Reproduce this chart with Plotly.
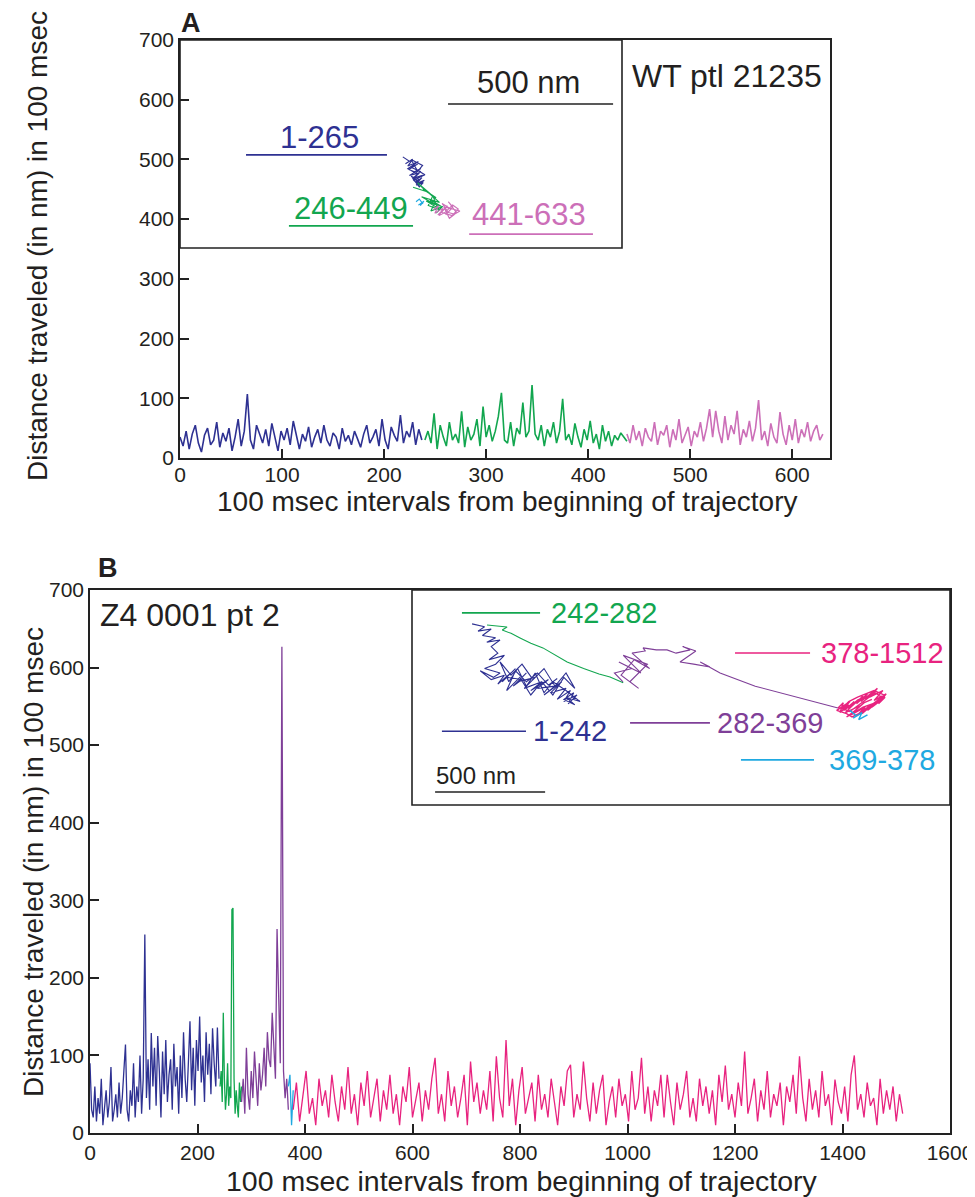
import plotly.graph_objects as go

W, H = 975, 1197
OFF = 8  # page body margin offset
def px(v): return (v - OFF) / W
def py(v): return 1 - (v - OFF) / H

# ---------------- Panel A: distance per interval ----------------
a_blue_start, a_blue_step = 0, 3
a_blue = [35,20,45,15,40,55,25,10,38,50,22,30,60,18,42,28,50,12,35,65,20,45,107,30,15,55,40,25,48,20,58,35,12,45,30,50,22,62,38,15,
          40,28,52,18,35,48,25,55,30,20,42,35,15,50,28,38,22,45,32,18,40,55,25,35,48,20,65,30,15,52,38,28,72,25,45,35,60,22,48,30]
a_green_start, a_green_step = 240, 3
a_green = [30,45,25,75,15,55,35,20,60,30, 40,25,78,18,52,30,40,65,20,86, 35,55,28,45,70,109,30,25,60,20,
           50,40,93,35,45,122,40,30,55,20, 48,35,60,25,45,99,30,40,22,58, 35,18,48,30,62,25,40,15,55,28, 45,20,38,30,42,35,28]
a_pink_start, a_pink_step = 438, 3
a_pink = [40,25,55,30,45,20,50,35,28,60, 22,45,38,55,18,48,30,65,25,40, 52,20,45,35,60,28,50,82,35,79,
          45,25,70,30,55,40,79,22,48,35, 62,28,50,97,30,45,20,58,35,25, 77,40,22,55,30,65,25,48,35,60, 28,45,55,30,40]

# Panel A inset trajectories (nm)
ta_blue_x = [675,695,683,705,690,715,700,720,693,710,730,703,717,695,725,710,735,705,720,700,727,713,733,717,740,723,730,715,737,725,
             705,728,698,722,690,715,735,700,718,742,708,726]
ta_blue_y = [276,263,255,269,248,259,245,254,238,231,241,224,234,220,227,213,220,210,203,217,206,199,213,196,205,192,200,191,198,185,
             210,232,245,262,240,226,250,268,236,222,205,190]
ta_green_x = [706,746,720,766,736,776,752,786,732,772,756,792,746,780,766,752,786,772,760,796,776]
ta_green_y = [184,171,197,158,178,152,168,138,155,132,148,126,142,122,158,129,116,138,112,126,106]
ta_cyan_x = [715,725,735,722,739,728]
ta_cyan_y = [140,148,135,130,142,128]
ta_pink_x = [767,783,772,796,785,810,794,821,805,826,813,837,821,843,826,805,832,816,799,848,824,792,810,781]
ta_pink_y = [115,128,105,120,98,112,135,118,100,125,140,108,95,118,130,110,102,90,125,112,98,108,128,100]

# ---------------- Panel B ----------------
b_blue_start, b_blue_step = 0, 3
b_blue = [90,30,20,60,15,45,25,70,10,35, 55,20,40,85,15,30,50,20,65,25, 45,80,114,30,15,55,35,90,20,60,
          40,100,25,70,256,45,95,30,129,60, 110,35,125,80,20,105,50,120,40,75, 95,30,115,60,85,25,100,45,130,70,
          40,90,144,55,110,35,120,80,150,65, 100,40,130,75,115,50,135,90,60,136, 70]
b_green_start, b_green_step = 242, 2
b_green = [60,80,40,155,70,30,50,90,35,60, 45,288,290,70,25,55,35,20,65,40,60]
b_purple_start, b_purple_step = 282, 3
b_purple = [40,70,25,110,50,30,80,45,105,60, 35,90,55,75,110,60,130,95,85,155, 120,70,263,176,90,627,80,45,70,30]
b_cyan_start, b_cyan_step = 369, 3
b_cyan = [60,75,10,55]
b_pink_start, b_pink_step = 378, 6
b_pink = [30,65,15,50,80,25,45,10,70,35, 55,20,75,40,15,60,30,85,25,50, 10,65,35,80,20,45,70,15,55,30,
          75,25,50,10,60,40,85,20,45,65, 15,55,30,70,97,25,50,15,80,35, 60,20,45,75,10,92,40,65,25,55,
          30,80,15,99,45,20,120,35,70,10, 55,85,25,45,65,15,75,30,50,20, 70,40,10,60,35,80,88,20,50,30,
          92,45,15,65,25,55,75,10,40,60, 20,70,35,50,15,80,30,45,97,25, 60,15,55,35,75,20,75,40,10,65,
          30,50,80,20,45,15,70,35,60,25, 55,10,75,40,87,30,50,20,65,35, 105,25,45,70,15,55,30,80,20,50,
          35,65,10,60,40,75,25,99,45,15, 70,30,55,20,80,35,50,10,69,40, 25,60,15,75,100,30,50,20,65,35,
          45,10,70,25,55,30,60,15,50,25]

# Panel B inset trajectories (nm)
tb_blue_x = [273,330,300,360,320,380,340,400,360,390,350,420,380,330,400,370,310,360,420,390,450,410,470,430,500,460,520,480,560,510,
             590,540,620,570,650,600,680,630,700,660,720,690,750,710,735,690,740,700,764,
             700,640,600,560,520,480,440,400,450,500,550,600,650,700,740,690,640,590,540,490,430,470,520,570,620,660]
tb_blue_y = [823,810,790,800,770,760,740,750,720,690,660,680,640,620,600,580,610,570,590,550,600,560,620,580,570,540,600,560,580,530,
             560,520,570,530,540,500,560,510,530,480,520,470,500,460,510,480,455,490,470,
             520,560,510,600,540,620,560,650,590,640,570,620,540,600,530,580,500,560,500,580,520,610,560,600,545,575]
tb_green_x = [341,390,432,410,450,491,540,595,650,705,780,850,900,930,959,940,960]
tb_green_y = [818,812,809,795,780,759,735,714,680,650,620,595,582,570,559,565,555]
tb_purple_x = [959,920,1000,940,1040,960,1070,990,1030,950,1010,1080,1000,1060,1050,1110,1159,1200,1264,1230,1290,1218,1280,1354,1310,1400,1560,1750,1936]
tb_purple_y = [559,600,620,650,600,680,640,560,530,590,660,620,690,700,714,705,705,690,705,720,700,650,640,627,650,600,540,490,441]
tb_pink_x = [1936,1960,1945,1985,1965,2010,1980,2030,2000,2050, 2020,2070,2040,2095,2060,2115,2080,2140,2100,2155,
             2120,2150,2090,2130,2070,2110,2045,2085,2020,2060, 1995,2035,1970,2010,1950,1990,1930,1975,2000,2040,
             2080,2120,2145,2100,2060,2025,1985,1955,1990,2030, 2070,2105,2135,2095,2050,2010,1975,2015,2055,2090]
tb_pink_y = [441,465,420,455,430,470,440,480,450,495, 460,505,470,515,480,530,490,520,475,505,
             460,490,445,480,430,470,415,455,405,445, 410,450,420,460,425,470,430,415,400,420,
             440,470,500,520,505,490,470,440,425,455, 485,510,490,460,445,420,400,430,465,480]
tb_cyan_x = [1990,2020,2005,2045,2030,2070]
tb_cyan_y = [430,405,395,420,388,410]

C_NAVY = "#2e3192"
C_GREEN = "#12a64f"
C_ORCHID = "#cc6fb8"
C_PURPLE = "#7f3f98"
C_MAGENTA = "#e8237f"
C_CYAN = "#1fa9e1"
C_TEXT = "#231f20"

def xs(start, step, vals):
    return [start + step * i for i in range(len(vals))]

fig = go.Figure()

def series(start, step, vals, color, xa, ya, w=1.6):
    fig.add_trace(go.Scatter(x=xs(start, step, vals), y=vals, mode="lines",
                             line=dict(color=color, width=w), xaxis=xa, yaxis=ya,
                             showlegend=False, hoverinfo="skip"))

def traj(x, y, color, xa, ya, w=1.1):
    fig.add_trace(go.Scatter(x=x, y=y, mode="lines", line=dict(color=color, width=w),
                             xaxis=xa, yaxis=ya, showlegend=False, hoverinfo="skip"))

# Panel A main
series(a_blue_start, a_blue_step, a_blue, C_NAVY, "x", "y")
series(a_green_start, a_green_step, a_green, C_GREEN, "x", "y")
series(a_pink_start, a_pink_step, a_pink, C_ORCHID, "x", "y")
# Panel A inset
traj(ta_blue_x, ta_blue_y, C_NAVY, "x2", "y2")
traj(ta_green_x, ta_green_y, C_GREEN, "x2", "y2")
traj(ta_cyan_x, ta_cyan_y, C_CYAN, "x2", "y2")
traj(ta_pink_x, ta_pink_y, C_ORCHID, "x2", "y2")
# Panel B main
series(b_blue_start, b_blue_step, b_blue, C_NAVY, "x3", "y3", 1.3)
series(b_green_start, b_green_step, b_green, C_GREEN, "x3", "y3", 1.3)
series(b_purple_start, b_purple_step, b_purple, C_PURPLE, "x3", "y3", 1.3)
series(b_cyan_start, b_cyan_step, b_cyan, C_CYAN, "x3", "y3", 1.3)
series(b_pink_start, b_pink_step, b_pink, C_MAGENTA, "x3", "y3", 1.3)
# Panel B inset
traj(tb_blue_x, tb_blue_y, C_NAVY, "x4", "y4")
traj(tb_green_x, tb_green_y, C_GREEN, "x4", "y4")
traj(tb_purple_x, tb_purple_y, C_PURPLE, "x4", "y4")
traj(tb_pink_x, tb_pink_y, C_MAGENTA, "x4", "y4", 1.4)
traj(tb_cyan_x, tb_cyan_y, C_CYAN, "x4", "y4", 1.4)

FONT = "Liberation Sans, Arial, sans-serif"
ax_common = dict(showgrid=False, zeroline=False, showline=True, linecolor="#222", linewidth=1.6,
                 mirror=True, ticks="inside", ticklen=9, tickcolor="#222", tickwidth=1.6,
                 automargin=False, tickfont=dict(family=FONT, size=21, color=C_TEXT))
hidden = dict(visible=False, showgrid=False, zeroline=False, fixedrange=True, automargin=False)

fig.update_layout(
    width=W, height=H, margin=dict(l=0, r=0, t=0, b=0, autoexpand=False),
    paper_bgcolor="white", plot_bgcolor="rgba(0,0,0,0)",
    font=dict(family=FONT, color=C_TEXT),
    xaxis=dict(domain=[px(180), px(830)], range=[0, 637], tickvals=[0,100,200,300,400,500,600],
               anchor="y", ticklabelstandoff=-3, **ax_common),
    yaxis=dict(domain=[py(458), py(40)], range=[0, 700], tickvals=[0,100,200,300,400,500,600,700],
               anchor="x", **ax_common),
    xaxis2=dict(domain=[px(180), px(622)], range=[0, 1339], anchor="y2", **hidden),
    yaxis2=dict(domain=[py(248), py(40)], range=[0, 630], anchor="x2", **hidden),
    xaxis3=dict(domain=[px(90), px(950)], range=[0, 1600], tickvals=list(range(0, 1601, 200)),
                anchor="y3", **ax_common),
    yaxis3=dict(domain=[py(1133), py(590)], range=[0, 700], tickvals=[0,100,200,300,400,500,600,700],
                anchor="x3", **ax_common),
    xaxis4=dict(domain=[px(412), px(950)], range=[0, 2445], anchor="y4", **hidden),
    yaxis4=dict(domain=[py(805), py(590)], range=[0, 977], anchor="x4", **hidden),
)

shapes = []
# inset frames
shapes.append(dict(type="rect", xref="paper", yref="paper", x0=px(180), x1=px(622), y0=py(248), y1=py(40),
                   line=dict(color="#222", width=1.6)))
shapes.append(dict(type="rect", xref="paper", yref="paper", x0=px(412), x1=px(950), y0=py(805), y1=py(590),
                   line=dict(color="#222", width=1.6)))

def seg(xr, yr, x0, x1, y, color, w=1.6):
    shapes.append(dict(type="line", xref=xr, yref=yr, x0=x0, x1=x1, y0=y, y1=y,
                       line=dict(color=color, width=w)))

# Panel A inset label lines
seg("x2", "y2", 812, 1312, 436, "#222")
seg("x2", "y2", 200, 627, 282, C_NAVY)
seg("x2", "y2", 330, 706, 67, C_GREEN)
seg("x2", "y2", 876, 1251, 42, C_ORCHID)
# Panel B inset label lines
seg("x4", "y4", 227, 582, 873, C_GREEN)
seg("x4", "y4", 1468, 1809, 691, C_MAGENTA)
seg("x4", "y4", 136, 518, 335, C_NAVY)
seg("x4", "y4", 991, 1354, 373, C_PURPLE)
seg("x4", "y4", 1495, 1827, 205, C_CYAN)
seg("x4", "y4", 105, 605, 59, "#222")

fig.update_layout(shapes=shapes)

ann = []
def txt(x, y, s, size, color=C_TEXT, xr="paper", yr="paper", xanchor="center", bold=False, angle=0):
    ann.append(dict(x=x, y=y, xref=xr, yref=yr, text=("<b>%s</b>" % s) if bold else s, showarrow=False,
                    font=dict(family=FONT, size=size, color=color), xanchor=xanchor, yanchor="middle",
                    textangle=angle))

# Panel letters and titles
txt(px(179), py(23), "A", 27, xanchor="left", bold=True)
txt(px(96), py(568), "B", 27, xanchor="left", bold=True)
txt(px(630), py(76), "WT ptl 21235", 32, xanchor="left")
txt(px(98), py(615), "Z4 0001 pt 2", 32, xanchor="left")
# Axis titles
txt(px(507), py(501), "100 msec intervals from beginning of trajectory", 28)
txt(px(522), py(1181), "100 msec intervals from beginning of trajectory", 28.5)
txt(px(37), py(246), "Distance traveled (in nm) in 100 msec", 28, angle=-90)
txt(px(33), py(862), "Distance traveled (in nm) in 100 msec", 28, angle=-90)
# Panel A inset labels
txt(1055, 500, "500 nm", 31, xr="x2", yr="y2")
txt(424, 336, "1-265", 31, C_NAVY, xr="x2", yr="y2")
txt(519, 121, "246-449", 31, C_GREEN, xr="x2", yr="y2")
txt(1057, 100, "441-633", 31, C_ORCHID, xr="x2", yr="y2")
# Panel B inset labels
txt(873, 873, "242-282", 29, C_GREEN, xr="x4", yr="y4")
txt(2136, 691, "378-1512", 29, C_MAGENTA, xr="x4", yr="y4")
txt(718, 335, "1-242", 29, C_NAVY, xr="x4", yr="y4")
txt(1627, 373, "282-369", 29, C_PURPLE, xr="x4", yr="y4")
txt(2136, 205, "369-378", 29, C_CYAN, xr="x4", yr="y4")
txt(291, 136, "500 nm", 24, xr="x4", yr="y4")

fig.update_layout(annotations=ann)
fig.write_html("out.html")
